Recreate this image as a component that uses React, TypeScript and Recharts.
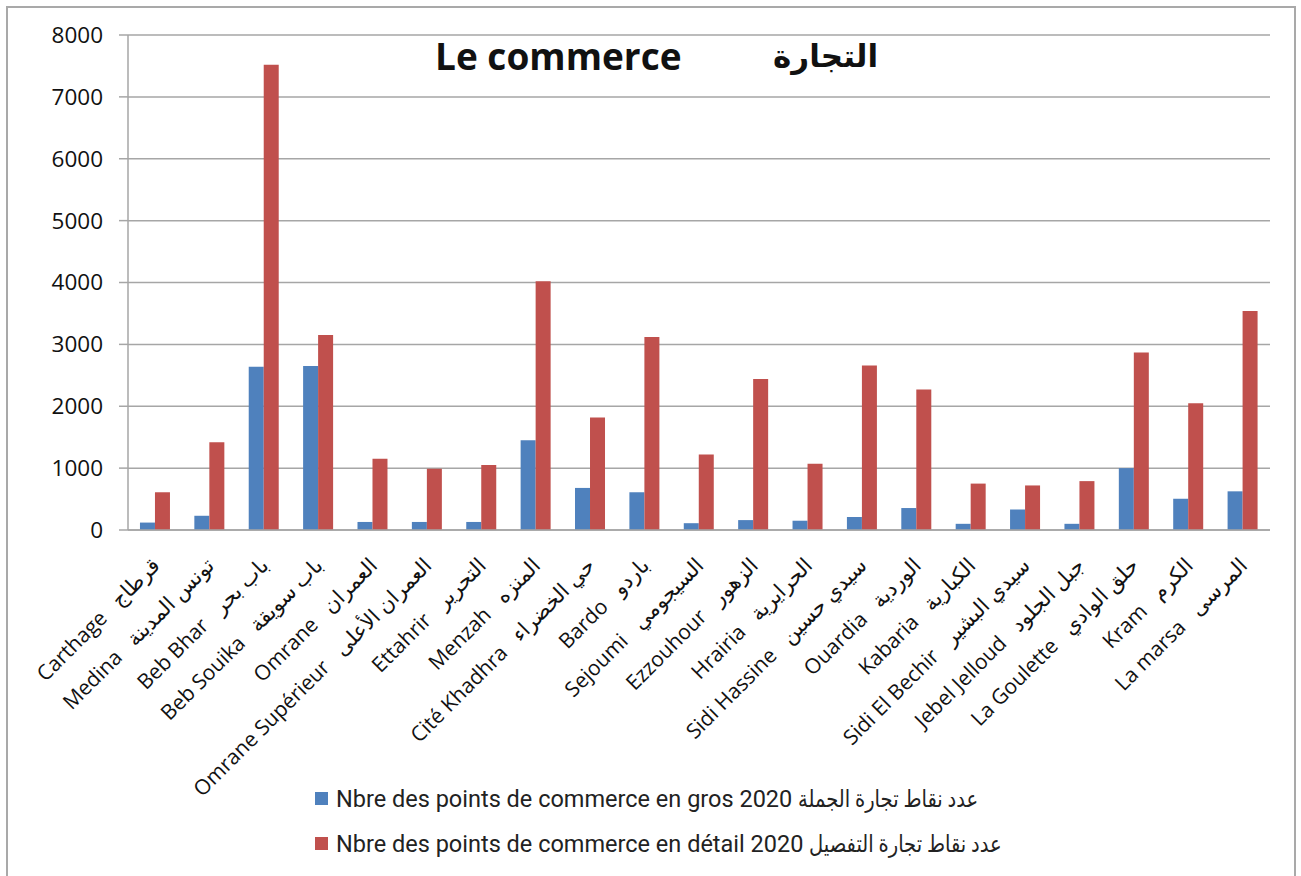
import React from 'react';
import { BarChart, Bar, XAxis, YAxis, CartesianGrid } from 'recharts';

const frNames = ['Carthage', 'Medina', 'Beb Bhar', 'Beb Souika', 'Omrane', 'Omrane Supérieur', 'Ettahrir', 'Menzah', 'Cité Khadhra', 'Bardo', 'Sejoumi', 'Ezzouhour', 'Hrairia', 'Sidi Hassine', 'Ouardia', 'Kabaria', 'Sidi El Bechir', 'Jebel Jelloud', 'La Goulette', 'Kram', 'La marsa'];
const arNames = ['قرطاج', 'تونس المدينة', 'باب بحر', 'باب سويقة', 'العمران', 'العمران الأعلى', 'التحرير', 'المنزه', 'حي الخضراء', 'باردو', 'السيجومي', 'الزهور', 'الحرايرية', 'سيدي حسين', 'الوردية', 'الكبارية', 'سيدي البشير', 'جبل الجلود', 'حلق الوادي', 'الكرم', 'المرسى'];
const wholesale = [120, 230, 2640, 2650, 130, 130, 130, 1450, 680, 610, 110, 160, 150, 210, 355, 100, 330, 100, 1000, 505, 625];
const retail = [610, 1420, 7520, 3150, 1150, 990, 1050, 4020, 1820, 3120, 1220, 2440, 1070, 2660, 2270, 750, 720, 790, 2870, 2050, 3540];
const yTicks = [0, 1000, 2000, 3000, 4000, 5000, 6000, 7000, 8000];
const seriesFr = ['Nbre des points de commerce en gros 2020', 'Nbre des points de commerce en détail 2020'];
const seriesAr = ['عدد نقاط تجارة الجملة', 'عدد نقاط تجارة التفصيل'];
const seriesColors = ['#4F81BD', '#C0504D'];
const titleFr = 'Le commerce';
const titleAr = 'التجارة';

const edgeTicks = Array.from({ length: frNames.length + 1 }, (_, i) => i);

const data = frNames.map((fr, i) => ({
  name: fr + '   ' + arNames[i],
  idx: i + 0.5,
  gros: wholesale[i],
  detail: retail[i],
}));

const FONT = "'Open Sans', 'DejaVu Sans', sans-serif";
const GRID = '#a6a6a6';

const CatTick = (props: any) => {
  const { x, y, payload } = props;
  return (
    <g transform={`translate(${x - 4},${y + 19})`}>
      <text
        x={0}
        y={0}
        dy={14}
        textAnchor="end"
        transform="rotate(-45)"
        fontSize={21}
        fill="#111"
        fontFamily={FONT}
        style={{ whiteSpace: 'pre' }}
      >
        {payload.value}
      </text>
    </g>
  );
};

export default function App() {
  return (
    <div style={{ position: 'absolute', left: 0, top: 0, width: 1301, height: 876, background: '#fff', overflow: 'hidden' }}>
      <div style={{ position: 'absolute', left: 6, top: 6, width: 1290, height: 900, border: '2px solid #a9a9a9', boxSizing: 'border-box' }} />
      <BarChart
        width={1301}
        height={876}
        data={data}
        margin={{ top: 35, right: 31, left: 0, bottom: 0 }}
        barCategoryGap="22%"
        barGap={0}
      >
        <CartesianGrid vertical={false} stroke={GRID} strokeWidth={1.5} />
        <XAxis
          xAxisId={0}
          type="number"
          dataKey="idx"
          domain={[0, frNames.length]}
          ticks={edgeTicks}
          height={0}
          tick={false}
          axisLine={false}
          tickLine={{ stroke: GRID, strokeWidth: 1.5 }}
          tickSize={8}
          allowDataOverflow
        />
        <XAxis
          xAxisId={1}
          dataKey="name"
          interval={0}
          height={346}
          tickLine={false}
          axisLine={{ stroke: GRID, strokeWidth: 1.5 }}
          tick={<CatTick />}
        />
        <YAxis
          width={128}
          domain={[0, 8000]}
          ticks={yTicks}
          interval={0}
          tickSize={9}
          tickMargin={16}
          axisLine={{ stroke: GRID, strokeWidth: 1.5 }}
          tickLine={{ stroke: GRID, strokeWidth: 1.5 }}
          tick={{ fontSize: 22.5, fill: '#111', fontFamily: FONT }}
        />
        <Bar xAxisId={1} dataKey="gros" fill={seriesColors[0]} isAnimationActive={false} />
        <Bar xAxisId={1} dataKey="detail" fill={seriesColors[1]} isAnimationActive={false} />
      </BarChart>
      <div style={{ position: 'absolute', left: 435, top: 32, fontFamily: FONT, fontWeight: 700, fontSize: 37, color: '#111', lineHeight: '48px' }}>
        {titleFr}
      </div>
      <div style={{ position: 'absolute', left: 773, top: 31, fontFamily: FONT, fontWeight: 700, fontSize: 31, color: '#111', lineHeight: '48px' }}>
        {titleAr}
      </div>
      <div style={{ position: 'absolute', left: 315, top: 776, fontFamily: "Roboto, 'DejaVu Sans', sans-serif", fontSize: 23.5, color: '#222' }}>
        {seriesFr.map((n, i) => (
          <div key={i} style={{ display: 'flex', alignItems: 'center', height: 45, whiteSpace: 'pre' }}>
            <span style={{ display: 'inline-block', width: 13, height: 13, background: seriesColors[i], marginRight: 8 }} />
            <span>{n + ' '}</span>
            <span style={{ display: 'inline-block', transform: 'scaleX(0.83)', transformOrigin: 'left center', direction: 'rtl' }}>{seriesAr[i]}</span>
          </div>
        ))}
      </div>
    </div>
  );
}
